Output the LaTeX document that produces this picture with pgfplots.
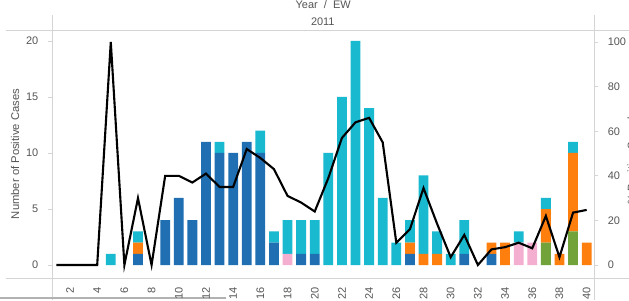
\documentclass[border=0pt]{standalone}
\usepackage{fontspec}
\setmainfont{Liberation Sans}
\usepackage{pgfplots}
\usepackage{pgfplotstable}
\pgfplotsset{compat=1.18}
\definecolor{cdb}{HTML}{1F6FB2}
\definecolor{cpk}{HTML}{F4AFD0}
\definecolor{cgr}{HTML}{72A23A}
\definecolor{cor}{HTML}{FF7F0E}
\definecolor{ccy}{HTML}{19B9D0}
\definecolor{tickgray}{HTML}{555555}
\definecolor{linegray}{HTML}{D4D4D4}
\pgfplotstableread{
week db pk gr or cy pct
1 0 0 0 0 0 0
2 0 0 0 0 0 0
3 0 0 0 0 0 0
4 0 0 0 0 0 0
5 0 0 0 0 1 100
6 0 0 0 0 0 0
7 1 0 0 1 1 30
8 0 0 0 0 0 0
9 4 0 0 0 0 40
10 6 0 0 0 0 40
11 4 0 0 0 0 37
12 11 0 0 0 0 41
13 10 0 0 0 1 35
14 10 0 0 0 0 35
15 11 0 0 0 0 52
16 10 0 0 0 2 48
17 2 0 0 0 1 43
18 0 1 0 0 3 31
19 1 0 0 0 3 28
20 1 0 0 0 3 24
21 0 0 0 0 10 39
22 0 0 0 0 15 57
23 0 0 0 0 20 64
24 0 0 0 0 14 66
25 0 0 0 0 6 55
26 0 0 0 0 2 10
27 1 0 0 1 2 16
28 0 0 0 1 7 34.5
29 0 0 0 1 2 18.5
30 0 0 0 0 1 3.5
31 1 0 0 0 3 13.5
32 0 0 0 0 0 0
33 1 0 0 1 0 7
34 0 0 0 2 0 8
35 0 2 0 0 1 10
36 0 2 0 0 0 7.5
37 0 0 2 3 1 22
38 0 0 0 1 0 3.5
39 0 0 3 7 1 23.5
40 0 0 0 2 0 24.7
}\datatable
\begin{document}
\begin{tikzpicture}[x=1cm,y=1cm]
\useasboundingbox (0,0) rectangle (15.725,-7.5);
\clip (0,0) rectangle (15.725,-7.5);
\draw[linegray, line width=0.7pt] (0.15,-0.75) -- (15.725,-0.75);
\draw[linegray, line width=0.7pt] (0.15,-6.95) -- (15.725,-6.95);
\draw[linegray, line width=0.6pt] (1.3,-0.375) -- (1.3,-7.5);
\draw[linegray, line width=0.6pt] (14.85,-0.375) -- (14.85,-7.5);
\draw[gray!60, line width=0.8pt] (0,-7.45) -- (5.65,-7.45);
\node[text=tickgray, font=\fontsize{7.8}{9}\selectfont] at (8.08,-0.11) {Year \ / \ EW};
\node[text=tickgray, font=\fontsize{7.8}{9}\selectfont] at (8.07,-0.55) {2011};
\node[rotate=90, text=tickgray, font=\fontsize{8}{9}\selectfont] at (0.375,-3.85) {Number of Positive Cases};
\node[rotate=90, text=tickgray, font=\fontsize{8}{9}\selectfont] at (15.82,-3.88) {\% Positive Samples};
\begin{axis}[
  at={(1.3cm,-6.95cm)}, anchor=south west,
  scale only axis, width=13.55cm, height=6.2cm,
  xmin=0.676, xmax=40.54, ymin=-1.16, ymax=20.98,
  ybar stacked, bar width=0.245cm,
  axis line style={draw=none},
  xtick={2,4,...,40}, xtick style={draw=none},
  ytick={0,5,...,20}, ytick pos=left,
  tick align=outside, major tick length=0.1cm,
  ytick style={linegray, line width=0.6pt},
  /pgf/number format/assume math mode=true,
  ticklabel style={font=\fontsize{7.8}{9}\selectfont, text=tickgray},
  xticklabel style={rotate=90, anchor=east, yshift=0pt},
  yticklabel style={xshift=-0.12cm},
]
\addplot[fill=cdb, draw=none] table[x=week, y=db] {\datatable};
\addplot[fill=cpk, draw=none] table[x=week, y=pk] {\datatable};
\addplot[fill=cgr, draw=none] table[x=week, y=gr] {\datatable};
\addplot[fill=cor, draw=none] table[x=week, y=or] {\datatable};
\addplot[fill=ccy, draw=none] table[x=week, y=cy] {\datatable};
\end{axis}
\begin{axis}[
  at={(1.3cm,-6.95cm)}, anchor=south west,
  scale only axis, width=13.55cm, height=6.2cm,
  xmin=0.676, xmax=40.54, ymin=-5.83, ymax=105.4,
  axis line style={draw=none},
  xtick=\empty,
  ytick={0,20,...,100}, ytick pos=right,
  tick align=outside, major tick length=0.1cm,
  ytick style={linegray, line width=0.6pt},
  /pgf/number format/assume math mode=true,
  ticklabel style={font=\fontsize{7.8}{9}\selectfont, text=tickgray},
  yticklabel style={xshift=0.12cm},
]
\addplot[black, line width=1.5pt, mark=none] table[x=week, y=pct] {\datatable};
\end{axis}
\end{tikzpicture}
\end{document}
